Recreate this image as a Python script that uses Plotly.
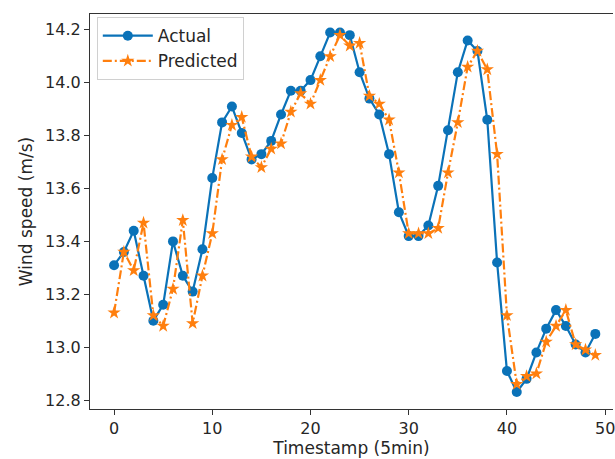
import plotly.graph_objects as go

timestamps = list(range(50))
actual = [13.31, 13.36, 13.44, 13.27, 13.10, 13.16, 13.40, 13.27, 13.21, 13.37,
          13.64, 13.85, 13.91, 13.81, 13.71, 13.73, 13.78, 13.88, 13.97, 13.97,
          14.01, 14.10, 14.19, 14.19, 14.18, 14.04, 13.94, 13.88, 13.73, 13.51,
          13.42, 13.42, 13.46, 13.61, 13.82, 14.04, 14.16, 14.12, 13.86, 13.32,
          12.91, 12.83, 12.88, 12.98, 13.07, 13.14, 13.08, 13.01, 12.98, 13.05]
predicted = [13.13, 13.36, 13.29, 13.47, 13.12, 13.08, 13.22, 13.48, 13.09, 13.27,
             13.43, 13.71, 13.84, 13.87, 13.72, 13.68, 13.75, 13.77, 13.89, 13.96,
             13.92, 14.01, 14.10, 14.18, 14.14, 14.15, 13.95, 13.92, 13.86, 13.66,
             13.43, 13.43, 13.43, 13.45, 13.66, 13.85, 14.06, 14.12, 14.05, 13.73,
             13.12, 12.86, 12.89, 12.90, 13.02, 13.08, 13.14, 13.01, 12.99, 12.97]
x_ticks = [0, 10, 20, 30, 40, 50]
y_ticks = [12.8, 13.0, 13.2, 13.4, 13.6, 13.8, 14.0, 14.2]

blue = "#0a72b8"
orange = "#ff7f0e"

fig = go.Figure()
fig.add_trace(go.Scatter(
    x=timestamps, y=actual, mode="lines+markers", name="Actual",
    line=dict(color=blue, width=2.2),
    marker=dict(symbol="circle", size=10, color=blue),
))
fig.add_trace(go.Scatter(
    x=timestamps, y=predicted, mode="lines+markers", name="Predicted",
    line=dict(color=orange, width=2.2, dash="9px,3px,2px,3px"),
    marker=dict(symbol="star", size=10, color=orange),
))

font = "DejaVu Sans, Arial, sans-serif"
fig.update_layout(
    width=615, height=459,
    margin=dict(l=90, r=0, t=14, b=50),
    plot_bgcolor="white", paper_bgcolor="white",
    font=dict(family=font, size=16, color="#262626"),
    showlegend=True,
    legend=dict(
        x=0.013, y=0.992, xanchor="left", yanchor="top",
        bgcolor="rgba(255,255,255,0.85)", bordercolor="#d0d0d0", borderwidth=1,
        font=dict(size=17, family=font, color="#262626"),
        tracegroupgap=2, itemwidth=50,
    ),
    xaxis=dict(
        range=[-2.45, 50.8], tickvals=x_ticks, ticktext=[str(v) for v in x_ticks],
        showgrid=False, zeroline=False, showline=True, linecolor="#333333", linewidth=1.2,
        mirror=True, ticks="outside", ticklen=5, tickcolor="#333333",
        ticklabeloverflow="allow",
        title=dict(text="Timestamp (5min)", font=dict(size=17), standoff=4),
    ),
    yaxis=dict(
        range=[12.766, 14.26], tickvals=y_ticks, ticktext=[f"{v:.1f}" for v in y_ticks],
        showgrid=False, zeroline=False, showline=True, linecolor="#333333", linewidth=1.2,
        ticks="outside", ticklen=5, tickcolor="#333333",
        title=dict(text="Wind speed (m/s)", font=dict(size=17), standoff=8),
    ),
)

fig.write_html("out.html")
